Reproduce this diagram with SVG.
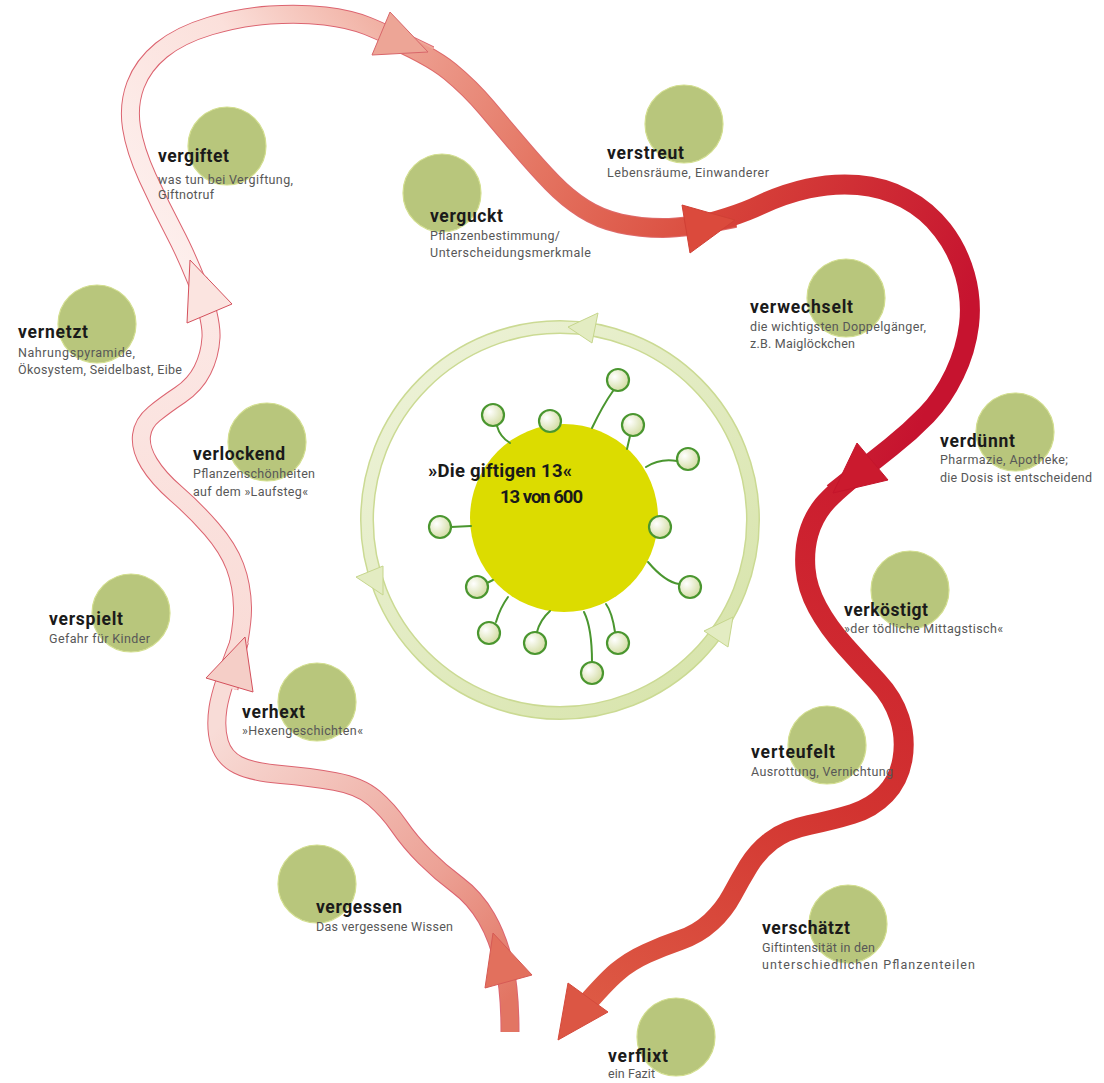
<svg xmlns="http://www.w3.org/2000/svg" width="1104" height="1083" viewBox="0 0 1104 1083">
<defs>
<style>
.t{font-family:Roboto,"Liberation Sans",sans-serif;font-weight:700;font-size:17.5px;fill:#1a1a1a}
.s{font-family:Roboto,"Liberation Sans",sans-serif;font-size:12.5px;fill:#575757}
.ct{font-family:Roboto,"Liberation Sans",sans-serif;font-weight:700;font-size:18.5px;fill:#1a1a1a}
.nc{fill:#b8c67c;stroke:#d2de8e;stroke-width:1.2}
.sc{fill:url(#sg);stroke:#4a962f;stroke-width:2.2}
.stem{fill:none;stroke:#4a962f;stroke-width:2;stroke-linecap:round}
.band{fill:none;stroke-linecap:butt;stroke-linejoin:round}
.ol{stroke:#dc6470}
.ah{stroke-width:1;stroke-linejoin:miter}
.ra{fill:#e3ecc2;stroke:#c6d68c;stroke-width:1;stroke-linejoin:miter}
</style>
<radialGradient id="sg" cx="0.35" cy="0.35" r="0.75">
<stop offset="0" stop-color="#ffffff"/><stop offset="1" stop-color="#cfd99a"/>
</radialGradient>
<linearGradient id="gR" gradientUnits="userSpaceOnUse" x1="380" y1="330" x2="740" y2="710">
<stop offset="0" stop-color="#eef3da"/><stop offset="1" stop-color="#d6e3a8"/>
</linearGradient>
<linearGradient id="gA" gradientUnits="userSpaceOnUse" x1="508" y1="1000" x2="225" y2="720">
<stop offset="0" stop-color="#e27563"/><stop offset="0.35" stop-color="#eca195"/><stop offset="1" stop-color="#f8dcd7"/>
</linearGradient>
<linearGradient id="gB" gradientUnits="userSpaceOnUse" x1="230" y1="690" x2="200" y2="300">
<stop offset="0" stop-color="#f9dad5"/><stop offset="1" stop-color="#fce8e5"/>
</linearGradient>
<linearGradient id="gC" gradientUnits="userSpaceOnUse" x1="160" y1="250" x2="430" y2="50">
<stop offset="0" stop-color="#fdefed"/><stop offset="0.55" stop-color="#fbe0db"/><stop offset="1" stop-color="#efa899"/>
</linearGradient>
<linearGradient id="gD" gradientUnits="userSpaceOnUse" x1="390" y1="40" x2="735" y2="220">
<stop offset="0" stop-color="#eea496"/><stop offset="0.5" stop-color="#e47461"/><stop offset="1" stop-color="#d9473a"/>
</linearGradient>
<linearGradient id="gE" gradientUnits="userSpaceOnUse" x1="700" y1="220" x2="960" y2="330">
<stop offset="0" stop-color="#d8463a"/><stop offset="1" stop-color="#c6132f"/>
</linearGradient>
<linearGradient id="gF" gradientUnits="userSpaceOnUse" x1="850" y1="480" x2="590" y2="1000">
<stop offset="0" stop-color="#cb1c2f"/><stop offset="0.5" stop-color="#d23330"/><stop offset="1" stop-color="#dd5944"/>
</linearGradient>
<path id="pA" d="M510,1032 Q510,990 504,964 Q498,938 486.5,918 Q475,898 457.5,885 Q440,872 425,857 Q410,842 399,826 Q388,810 374,798 Q360,786 335,781.5 Q310,777 281,774.5 Q252,772 238,765 Q224,758 219.5,743 Q215,728 218,708 Q221,688 240,640"/>
<path id="pB" d="M229,688 Q243,630 242.5,607.5 Q242,585 235,566.5 Q228,548 211.5,529 Q195,510 176.5,494 Q158,478 149,463 Q140,448 141.5,435.5 Q143,423 154,414 Q165,405 180,395 Q195,385 202.5,370 Q210,355 211,337.5 Q212,320 198,280"/>
<path id="pC" d="M209,313 Q190,262 175,233.5 Q160,205 147.5,177.5 Q135,150 131.5,127.5 Q128,105 135.5,85 Q143,65 161.5,50 Q180,35 210,26 Q240,17 270,15 Q300,13 325,16 Q350,19 367.5,26 Q385,33 430,55"/>
<path id="pD" d="M381,34 Q430,55 450,71.5 Q470,88 486.5,107.5 Q503,127 520,147 Q537,167 552,182.5 Q567,198 583.5,208.5 Q600,219 620,223.5 Q640,228 663,228 Q686,228 735,218"/>
<path id="pE" d="M686,229 Q735,217 759,205.5 Q783,194 808,188.5 Q833,183 858,185 Q883,187 905,198.5 Q927,210 942.5,230 Q958,250 965,275 Q972,300 969,325 Q966,350 954.5,374 Q943,398 926.5,415 Q910,432 891,447 Q872,462 833,493"/>
<path id="pF" d="M872,462 Q833,493 823,505.5 Q813,518 808.5,534 Q804,550 805.5,569 Q807,588 817.5,607.5 Q828,627 845,646 Q862,665 877.5,681.5 Q893,698 899.5,718 Q906,738 902.5,759 Q899,780 885.5,794 Q872,808 852.5,814 Q833,820 809,825 Q785,830 771,841 Q757,852 748.5,866 Q740,880 732,895 Q724,910 711,922 Q698,934 680.5,940 Q663,946 646.5,953.5 Q630,961 617,972 Q604,983 575,1017"/>
</defs>
<rect width="1104" height="1083" fill="#ffffff"/>

<g id="cycle">
<circle cx="560" cy="520" r="193" fill="none" stroke="#cbda93" stroke-width="14"/>
<circle cx="560" cy="520" r="193" fill="none" stroke="url(#gR)" stroke-width="11"/>
<polygon class="ra" points="568,327 598,313 592,343"/>
<polygon class="ra" points="383,595 356,577 383,566"/>
<polygon class="ra" points="733,617 704,631 728,647"/>
</g>

<g id="connectors">
<use href="#pA" class="band ol" stroke-width="19"/>
<use href="#pB" class="band ol" stroke-width="19"/>
<use href="#pC" class="band ol" stroke-width="19"/>
<use href="#pD" class="band" stroke="#de6a6a" stroke-width="20"/>
<use href="#pA" class="band" stroke="url(#gA)" stroke-width="17"/>
<use href="#pB" class="band" stroke="url(#gB)" stroke-width="17"/>
<use href="#pC" class="band" stroke="url(#gC)" stroke-width="17"/>
<use href="#pD" class="band" stroke="url(#gD)" stroke-width="18"/>
<use href="#pE" class="band" stroke="url(#gE)" stroke-width="20"/>
<use href="#pF" class="band" stroke="url(#gF)" stroke-width="20"/>
<polygon class="ah" points="493,933 532,975 485,988" fill="#e2705d" stroke="#d65a55"/>
<polygon class="ah" points="245,637 253,692 206,678" fill="#f5cec7" stroke="#d4505c"/>
<polygon class="ah" points="190,260 232,304 187,323" fill="#fbe4e0" stroke="#d4505c"/>
<polygon class="ah" points="428,52 372,55 390,12" fill="#eda596" stroke="#d9666a"/>
<polygon class="ah" points="735,220 690,253 682,205" fill="#db4a3c" stroke="#d04035"/>
<polygon class="ah" points="833,493 857,443 888,480" fill="#cb1a2e" stroke="#c4152b"/>
<polygon class="ah" points="558,1040 568,983 608,1012" fill="#dc5644" stroke="#d44a3c"/>
</g>

<g id="center">
<circle cx="564" cy="518" r="94" fill="#dcdc00"/>
<path class="stem" d="M497,426 Q500,437 510,443"/>
<path class="stem" d="M613,391 Q603,405 592,428"/>
<path class="stem" d="M630,436 L627,449"/>
<path class="stem" d="M677,461 Q660,458 646,467"/>
<path class="stem" d="M679,584 Q665,582 648,562"/>
<path class="stem" d="M615,632 Q612,612 606,604"/>
<path class="stem" d="M592,662 Q592,628 584,612"/>
<path class="stem" d="M537,632 Q540,620 550,611"/>
<path class="stem" d="M496,622 Q500,608 508,597"/>
<path class="stem" d="M487,583 L493,580"/>
<path class="stem" d="M451,527 L471,526"/>
<circle class="sc" cx="493" cy="415" r="11"/>
<circle class="sc" cx="550" cy="421" r="11"/>
<circle class="sc" cx="618" cy="380" r="11"/>
<circle class="sc" cx="633" cy="425" r="11"/>
<circle class="sc" cx="688" cy="459" r="11"/>
<circle class="sc" cx="660" cy="527" r="11"/>
<circle class="sc" cx="690" cy="587" r="11"/>
<circle class="sc" cx="618" cy="643" r="11"/>
<circle class="sc" cx="592" cy="673" r="11"/>
<circle class="sc" cx="535" cy="643" r="11"/>
<circle class="sc" cx="489" cy="633" r="11"/>
<circle class="sc" cx="477" cy="587" r="11"/>
<circle class="sc" cx="440" cy="527" r="11"/>
<text class="ct" x="428" y="477" textLength="144">»Die giftigen 13«</text>
<text class="ct" x="500" y="503" textLength="83">13 von 600</text>
</g>

<g id="node-vergiftet"><circle class="nc" cx="227" cy="146" r="39"/>
<text class="t" x="158" y="162" textLength="71">vergiftet</text>
<text class="s" x="158" y="184" textLength="135">was tun bei Vergiftung,</text>
<text class="s" x="158" y="199" textLength="56">Giftnotruf</text></g>

<g id="node-verguckt"><circle class="nc" cx="442" cy="193" r="39"/>
<text class="t" x="430" y="222" textLength="73">verguckt</text>
<text class="s" x="430" y="240" textLength="130">Pflanzenbestimmung/</text>
<text class="s" x="430" y="257" textLength="161">Unterscheidungsmerkmale</text></g>

<g id="node-verstreut"><circle class="nc" cx="684" cy="124" r="39"/>
<text class="t" x="607" y="159" textLength="77">verstreut</text>
<text class="s" x="607" y="177" textLength="162">Lebensräume, Einwanderer</text></g>

<g id="node-verwechselt"><circle class="nc" cx="846" cy="298" r="39"/>
<text class="t" x="750" y="313" textLength="103">verwechselt</text>
<text class="s" x="750" y="331" textLength="176">die wichtigsten Doppelgänger,</text>
<text class="s" x="750" y="348" textLength="105">z.B. Maiglöckchen</text></g>

<g id="node-verduennt"><circle class="nc" cx="1015" cy="432" r="39"/>
<text class="t" x="940" y="447" textLength="75">verdünnt</text>
<text class="s" x="940" y="464" textLength="128">Pharmazie, Apotheke;</text>
<text class="s" x="940" y="482" textLength="152">die Dosis ist entscheidend</text></g>

<g id="node-vernetzt"><circle class="nc" cx="97" cy="324" r="39"/>
<text class="t" x="18" y="338" textLength="70">vernetzt</text>
<text class="s" x="18" y="357" textLength="117">Nahrungspyramide,</text>
<text class="s" x="18" y="374" textLength="164">Ökosystem, Seidelbast, Eibe</text></g>

<g id="node-verlockend"><circle class="nc" cx="267" cy="442" r="39"/>
<text class="t" x="193" y="460" textLength="92">verlockend</text>
<text class="s" x="193" y="478" textLength="122">Pflanzenschönheiten</text>
<text class="s" x="193" y="496" textLength="115">auf dem »Laufsteg«</text></g>

<g id="node-verspielt"><circle class="nc" cx="131" cy="613" r="39"/>
<text class="t" x="49" y="625" textLength="74">verspielt</text>
<text class="s" x="49" y="643" textLength="101">Gefahr für Kinder</text></g>

<g id="node-verhext"><circle class="nc" cx="317" cy="702" r="39"/>
<text class="t" x="242" y="718" textLength="63">verhext</text>
<text class="s" x="242" y="735" textLength="121">»Hexengeschichten«</text></g>

<g id="node-vergessen"><circle class="nc" cx="317" cy="884" r="39"/>
<text class="t" x="316" y="913" textLength="86">vergessen</text>
<text class="s" x="316" y="931" textLength="137">Das vergessene Wissen</text></g>

<g id="node-verkoestigt"><circle class="nc" cx="910" cy="590" r="39"/>
<text class="t" x="844" y="616" textLength="84">verköstigt</text>
<text class="s" x="844" y="633" textLength="159">»der tödliche Mittagstisch«</text></g>

<g id="node-verteufelt"><circle class="nc" cx="827" cy="745" r="39"/>
<text class="t" x="751" y="758" textLength="84">verteufelt</text>
<text class="s" x="751" y="776" textLength="142">Ausrottung, Vernichtung</text></g>

<g id="node-verschaetzt"><circle class="nc" cx="848" cy="924" r="39"/>
<text class="t" x="762" y="934" textLength="88">verschätzt</text>
<text class="s" x="762" y="952" textLength="113">Giftintensität in den</text>
<text class="s" x="762" y="969" textLength="213">unterschiedlichen Pflanzenteilen</text></g>

<g id="node-verflixt"><circle class="nc" cx="676" cy="1037" r="39"/>
<text class="t" x="608" y="1062" textLength="60">verflixt</text>
<text class="s" x="608" y="1078" textLength="47">ein Fazit</text></g>
</svg>
